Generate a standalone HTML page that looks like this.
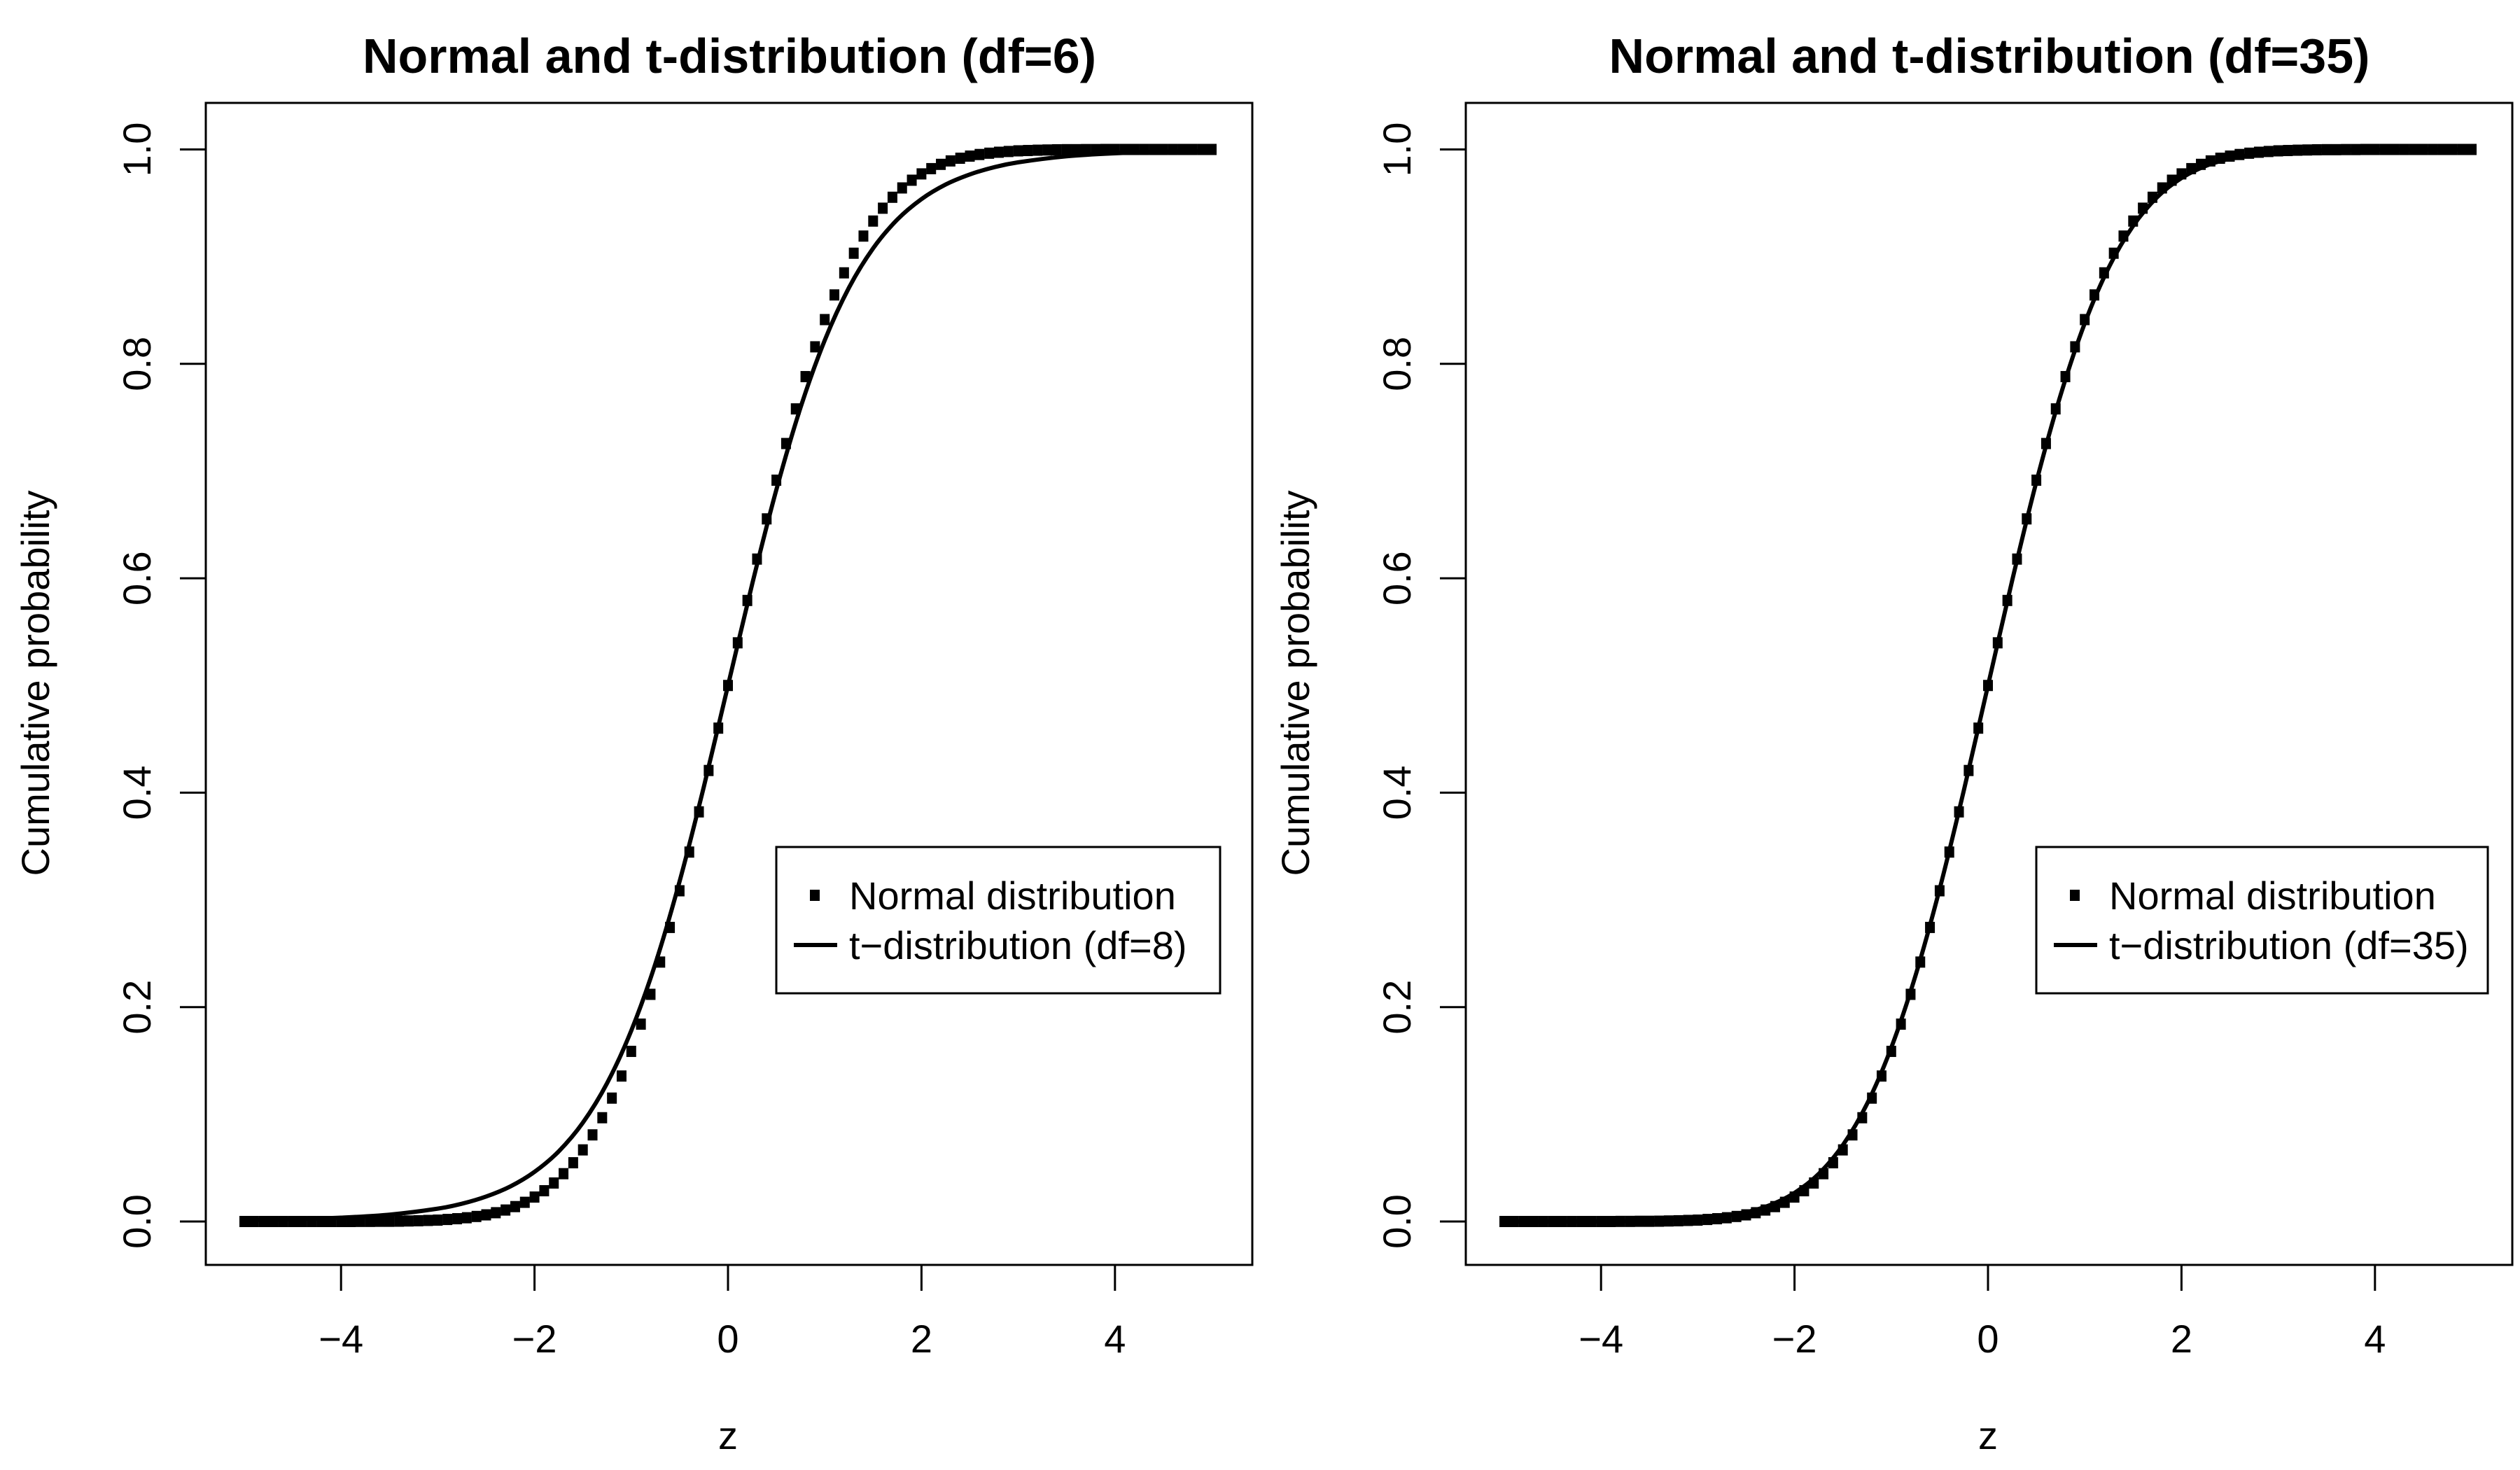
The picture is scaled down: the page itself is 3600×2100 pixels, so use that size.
<!DOCTYPE html>
<html><head><meta charset="utf-8"><style>
html,body{margin:0;padding:0;background:#fff;}
svg{display:block;font-family:"Liberation Sans",Arial,sans-serif;}
</style></head><body>
<svg id="c" width="3600" height="2100" viewBox="0 0 3600 2100" xmlns="http://www.w3.org/2000/svg"></svg>
<script>
const zVals=[-5,-4.9,-4.8,-4.7,-4.6,-4.5,-4.4,-4.3,-4.2,-4.1,-4,-3.9,-3.8,-3.7,-3.6,-3.5,-3.4,-3.3,-3.2,-3.1,-3,-2.9,-2.8,-2.7,-2.6,-2.5,-2.4,-2.3,-2.2,-2.1,-2,-1.9,-1.8,-1.7,-1.6,-1.5,-1.4,-1.3,-1.2,-1.1,-1,-0.9,-0.8,-0.7,-0.6,-0.5,-0.4,-0.3,-0.2,-0.1,0,0.1,0.2,0.3,0.4,0.5,0.6,0.7,0.8,0.9,1,1.1,1.2,1.3,1.4,1.5,1.6,1.7,1.8,1.9,2,2.1,2.2,2.3,2.4,2.5,2.6,2.7,2.8,2.9,3,3.1,3.2,3.3,3.4,3.5,3.6,3.7,3.8,3.9,4,4.1,4.2,4.3,4.4,4.5,4.6,4.7,4.8,4.9,5];
const normalCdf=[0,0,0,0,0,0,0,0,0,0,0,0,0.0001,0.0001,0.0002,0.0002,0.0003,0.0005,0.0007,0.0010,0.0013,0.0019,0.0026,0.0035,0.0047,0.0062,0.0082,0.0107,0.0139,0.0179,0.0228,0.0287,0.0359,0.0446,0.0548,0.0668,0.0808,0.0968,0.1151,0.1357,0.1587,0.1841,0.2119,0.2420,0.2743,0.3085,0.3446,0.3821,0.4207,0.4602,0.5,0.5398,0.5793,0.6179,0.6554,0.6915,0.7257,0.7580,0.7881,0.8159,0.8413,0.8643,0.8849,0.9032,0.9192,0.9332,0.9452,0.9554,0.9641,0.9713,0.9772,0.9821,0.9861,0.9893,0.9918,0.9938,0.9953,0.9965,0.9974,0.9981,0.9987,0.9990,0.9993,0.9995,0.9997,0.9998,0.9998,0.9999,0.9999,1,1,1,1,1,1,1,1,1,1,1,1];
const tX=[-5,-4.5,-4,-3.5,-3,-2.75,-2.5,-2.25,-2,-1.75,-1.5,-1.25,-1,-0.75,-0.5,-0.25,0,0.25,0.5,0.75,1,1.25,1.5,1.75,2,2.25,2.5,2.75,3,3.5,4,4.5,5];
const tCdfDf6=[0.0012,0.0021,0.0036,0.0064,0.0120,0.0166,0.0233,0.0327,0.0463,0.0654,0.0922,0.1290,0.1780,0.2407,0.3174,0.4054,0.5,0.5946,0.6826,0.7593,0.8220,0.8710,0.9078,0.9346,0.9537,0.9673,0.9767,0.9834,0.9880,0.9936,0.9964,0.9979,0.9988];
const tCdfDf35=[0,0.00004,0.0002,0.0007,0.0025,0.0047,0.0086,0.0154,0.0267,0.0444,0.0713,0.1098,0.1621,0.2292,0.3101,0.4020,0.5,0.5980,0.6899,0.7708,0.8379,0.8902,0.9287,0.9556,0.9733,0.9846,0.9914,0.9953,0.9975,0.9993,0.9998,0.99996,1];
const xTicks=[-4,-2,0,2,4];
const yTicks=[0,0.2,0.4,0.6,0.8,1.0];
const yTickLabels=["0.0","0.2","0.4","0.6","0.8","1.0"];
const titles=["Normal and t-distribution (df=6)","Normal and t-distribution (df=35)"];
const legendLabels=[["Normal distribution","t\u2212distribution (df=8)"],["Normal distribution","t\u2212distribution (df=35)"]];

const NS="http://www.w3.org/2000/svg";
const svg=document.getElementById('c');
function mk(tag,attrs,parent){const e=document.createElementNS(NS,tag);for(const k in attrs)e.setAttribute(k,attrs[k]);(parent||svg).appendChild(e);return e;}

const panels=[
 {off:0,series:tCdfDf6,legend:{x:1109,y:1210,w:634,h:209}},
 {off:1800,series:tCdfDf35,legend:{x:2909,y:1210,w:645,h:209}}
];
panels.forEach((p,i)=>{
  const g=mk('g',{});
  
  
  const x0=1040+p.off;
  const X=v=>x0+v*138.2;
  const Y=v=>1745-v*1531.5;
  const box=mk('rect',{x:294+p.off,y:147,width:1495,height:1660,fill:'none',stroke:'#000','stroke-width':3},g);
  
  
  const t=mk('text',{x:x0+2,y:104,'text-anchor':'middle','font-size':70,'font-weight':'bold'},g);
  t.textContent=titles[i];
  
  
  xTicks.forEach(v=>{
    const l=mk('line',{x1:X(v),x2:X(v),y1:1807,y2:1844,stroke:'#000','stroke-width':3},g);
    
    
    const tx=mk('text',{x:X(v),y:1932,'text-anchor':'middle','font-size':56},g);
    tx.textContent=v<0?'\u2212'+(-v):String(v);
    
    
  });
  const xl=mk('line',{x1:X(-4),x2:X(4),y1:1807,y2:1807,stroke:'#000','stroke-width':3},g);
  
  
  yTicks.forEach((v,k)=>{
    const l=mk('line',{x1:294+p.off,x2:257+p.off,y1:Y(v),y2:Y(v),stroke:'#000','stroke-width':3},g);
    
    
    const tx=mk('text',{x:0,y:0,'text-anchor':'middle','font-size':56,transform:`translate(${215+p.off},${Y(v)}) rotate(-90)`},g);
    tx.textContent=yTickLabels[k];
    
    
  });
  const yl=mk('text',{x:0,y:0,'text-anchor':'middle','font-size':56,transform:`translate(${70+p.off},976) rotate(-90)`},g);
  yl.textContent='Cumulative probability';
  
  
  const xt=mk('text',{x:x0,y:2070,'text-anchor':'middle','font-size':56},g);
  xt.textContent='z';
  
  
  // t line (smooth cardinal spline)
  const pts=tX.map((v,k)=>[X(v),Y(p.series[k])]);
  let d='M'+pts[0][0]+','+pts[0][1];
  for(let k=0;k<pts.length-1;k++){
    const a=pts[Math.max(k-1,0)],b=pts[k],c=pts[k+1],e=pts[Math.min(k+2,pts.length-1)];
    const c1=[b[0]+(c[0]-a[0])/6,b[1]+(c[1]-a[1])/6],c2=[c[0]-(e[0]-b[0])/6,c[1]-(e[1]-b[1])/6];
    d+=`C${c1[0]},${c1[1]} ${c2[0]},${c2[1]} ${c[0]},${c[1]}`;
  }
  const path=mk('path',{d:d,fill:'none',stroke:'#000','stroke-width':6},g);
  
  
  zVals.forEach((z,k)=>{
    const r=mk('rect',{x:X(z)-7,y:Y(normalCdf[k])-8,width:14,height:16,fill:'#000'},g);
    
    
  });
  const L=p.legend;
  const lg=mk('g',{},g);
  
  
  mk('rect',{x:L.x,y:L.y,width:L.w,height:L.h,fill:'#fff',stroke:'#000','stroke-width':3},lg);
  const sq=mk('rect',{x:L.x+48,y:1271,width:14,height:16,fill:'#000'},lg);
  
  
  const ln=mk('line',{x1:L.x+25,x2:L.x+87,y1:1350,y2:1350,stroke:'#000','stroke-width':6},lg);
  
  
  const t1=mk('text',{x:L.x+104,y:1299,'font-size':56},lg);
  t1.textContent=legendLabels[i][0];
  
  
  const t2=mk('text',{x:L.x+104,y:1370,'font-size':56},lg);
  t2.textContent=legendLabels[i][1];
  
  
});
</script>
</body></html>
